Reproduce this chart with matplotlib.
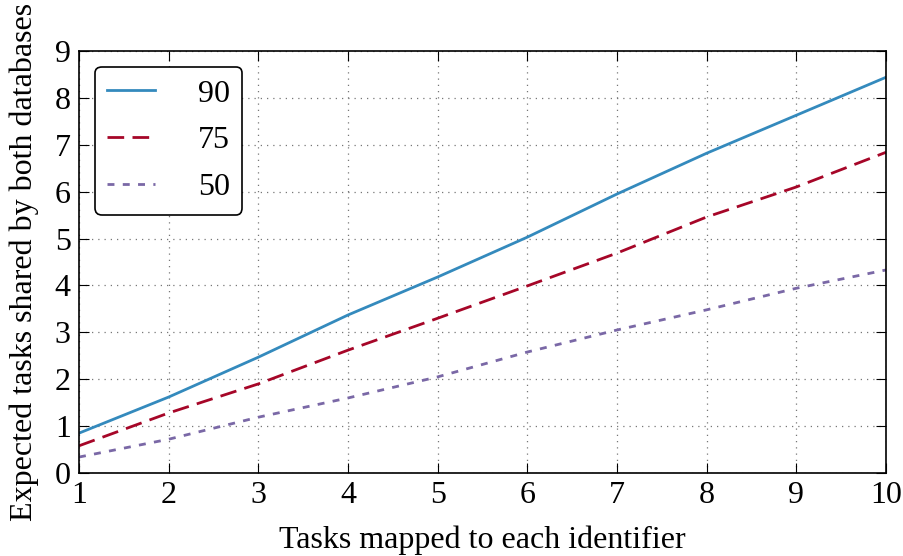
import matplotlib
matplotlib.use('Agg')
import matplotlib.pyplot as plt

# data
tasks = [1, 2, 3, 4, 5, 6, 7, 8, 9, 10]
shared_90 = [0.85, 1.62, 2.47, 3.37, 4.18, 5.03, 5.95, 6.82, 7.63, 8.44]
shared_75 = [0.58, 1.28, 1.90, 2.62, 3.30, 3.99, 4.69, 5.46, 6.10, 6.84]
shared_50 = [0.34, 0.72, 1.19, 1.60, 2.05, 2.58, 3.05, 3.48, 3.94, 4.33]

plt.rcParams['font.family'] = ['Liberation Serif', 'DejaVu Serif']
plt.rcParams['mathtext.fontset'] = 'stix'

fig = plt.figure(figsize=(9.04, 5.56), dpi=100)
ax = fig.add_axes([79/904, 1-473/556, (886-79)/904, (473-51)/556])

ax.plot(tasks, shared_90, color='#348ABD', lw=2, label='90')
ax.plot(tasks, shared_75, color='#A60628', lw=2, dashes=(6, 3), label='75')
ax.plot(tasks, shared_50, color='#7A68A6', lw=2, dashes=(2.5, 3), label='50')

ax.set_xlim(1, 10)
ax.set_ylim(0, 9)
ax.set_xticks(range(1, 11))
ax.set_yticks(range(0, 10))
ax.grid(True, linestyle=(0, (1, 4)), color='#777777', lw=0.9)
ax.tick_params(direction='in', top=True, right=True, length=7, labelsize=23, pad=6)
for s in ax.spines.values():
	s.set_linewidth(1.2)

ax.set_xlabel('Tasks mapped to each identifier', fontsize=23, labelpad=11)
ax.set_ylabel('Expected tasks shared by both databases', fontsize=23, labelpad=11)

leg = ax.legend(loc='upper left', fontsize=23, handlelength=1.5, handletextpad=1.35,
	borderpad=0.38, labelspacing=0.55, fancybox=True, framealpha=1,
	edgecolor='black', bbox_to_anchor=(0.02, 0.962), borderaxespad=0)
leg.get_frame().set_linewidth(1.2)

plt.savefig('out.png', dpi=100)
